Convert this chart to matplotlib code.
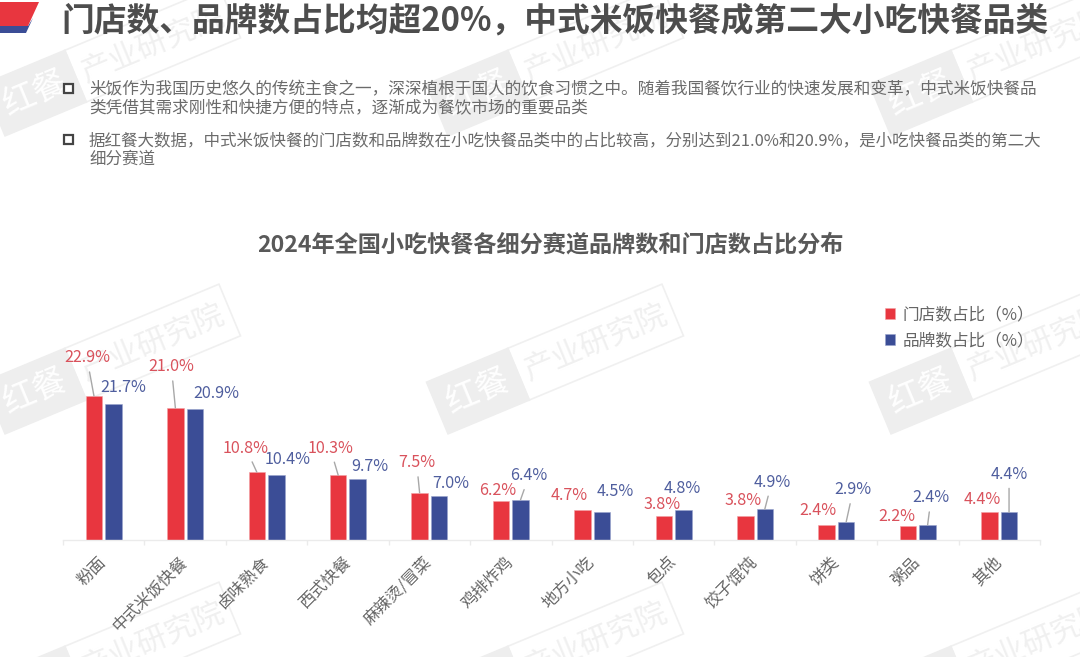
import numpy as np
import matplotlib
matplotlib.use("Agg")
import matplotlib.pyplot as plt
from matplotlib.patches import Polygon, Rectangle

plt.rcParams['font.family'] = ['Noto Sans CJK SC', 'DejaVu Sans']

# ---- data ----
categories = ['粉面', '中式米饭快餐', '卤味熟食', '西式快餐', '麻辣烫/冒菜', '鸡排炸鸡',
              '地方小吃', '包点', '饺子馄饨', '饼类', '粥品', '其他']
store_share = [22.9, 21.0, 10.8, 10.3, 7.5, 6.2, 4.7, 3.8, 3.8, 2.4, 2.2, 4.4]
brand_share = [21.7, 20.9, 10.4, 9.7, 7.0, 6.4, 4.5, 4.8, 4.9, 2.9, 2.4, 4.4]
store_name = '门店数占比（%）'
brand_name = '品牌数占比（%）'
title = '门店数、品牌数占比均超20%，中式米饭快餐成第二大小吃快餐品类'
chart_title = '2024年全国小吃快餐各细分赛道品牌数和门店数占比分布'
para1 = ['米饭作为我国历史悠久的传统主食之一，深深植根于国人的饮食习惯之中。随着我国餐饮行业的快速发展和变革，中式米饭快餐品',
         '类凭借其需求刚性和快捷方便的特点，逐渐成为餐饮市场的重要品类']
para2 = ['据红餐大数据，中式米饭快餐的门店数和品牌数在小吃快餐品类中的占比较高，分别达到21.0%和20.9%，是小吃快餐品类的第二大',
         '细分赛道']

# label offsets from the top of each bar, in pixels
store_dx = [-7, -4, -11, -8, -3, -3, -13, -2, -2, -9, -11, -7]
store_dy = [38, 41, 24, 27, 30, 11, 15, 12, 16, 14, 10, 13]
brand_dx = [10, 21, 11, 12, 12, 8.5, 13, -1, 7, 7, 3.5, 0]
brand_dy = [16, 15, 15, 12, 12, 24, 20, 21, 27, 32, 27, 38]
store_leader = [1, 1, 1, 1, 1, 0, 0, 0, 0, 0, 0, 0]
brand_leader = [0, 0, 0, 0, 0, 1, 0, 0, 1, 1, 1, 1]

RED, BLUE = '#e8363f', '#3b4d96'
RED_T, BLUE_T = '#d9525c', '#4f5e9e'
W, H = 1080, 657

fig = plt.figure(figsize=(W / 100, H / 100), dpi=100, facecolor='white')

# background layer in pixel coordinates
bg = fig.add_axes([0, 0, 1, 1])
bg.set_xlim(0, W)
bg.set_ylim(H, 0)
bg.axis('off')


def watermark(cx, cy):
    ang = np.deg2rad(-22.6)
    u = np.array([np.cos(ang), np.sin(ang)])
    v = np.array([-np.sin(ang), np.cos(ang)])
    c = np.array([cx, cy])
    L, T, S = 127.5, 28, -127.5 + 88

    def p(a, b):
        return c + a * u + b * v
    bg.add_patch(Polygon([p(S, -T), p(L, -T), p(L, T), p(S, T)], closed=True, fc='white',
                         ec='#f0f0f0', lw=1.2, zorder=1))
    bg.add_patch(Polygon([p(-L, -T), p(S, -T), p(S, T), p(-L, T)], closed=True, fc='#eeeeee',
                         ec='#eeeeee', lw=1.2, zorder=1))
    q = p((-L + S) / 2, 0)
    bg.text(q[0], q[1], '红餐', color='white', fontsize=24, rotation=22.6,
            rotation_mode='anchor', ha='center', va='center', zorder=2)
    q = p((S + L) / 2, 0)
    bg.text(q[0], q[1], '产业研究院', color='#f0f0f0', fontsize=22, rotation=22.6,
            rotation_mode='anchor', ha='center', va='center', zorder=2)


for wy in (61, 359, 657):
    for wx in (112, 555, 998):
        watermark(wx, wy)

# corner logo
bg.add_patch(Polygon([(0, 26), (28, 26), (33, 18), (26, 33), (0, 33)], closed=True, fc=BLUE, ec='none', zorder=3))
bg.add_patch(Polygon([(0, 2), (39, 2), (28, 26), (0, 26)], closed=True, fc=RED, ec='none', zorder=3))

# headings and body
bg.text(61, 21, title, fontsize=23.6, fontweight='bold', color='#4d4d4d', ha='left', va='center', zorder=5)
for y0, para, fs in ((88, para1, 12.0), (139, para2, 11.9)):
    bg.add_patch(Rectangle((63.5, y0 - 4.5), 9.5, 9.5, fc='white', ec='#444444', lw=1.6, zorder=5))
    for k, line in enumerate(para):
        bg.text(89, y0 + 2 + 18 * k, line, fontsize=fs, color='#6b6b6b', ha='left', va='center', zorder=5)
bg.text(550.5, 245, chart_title, fontsize=16.7, fontweight='bold', color='#595959',
        ha='center', va='center', zorder=5)

# chart
BASE = 540
SCALE = 6.29
TOP = 300
ax = fig.add_axes([63 / W, (H - BASE) / H, (1040 - 63) / W, (BASE - TOP) / H])
ax.patch.set_alpha(0)
n = len(categories)
x = np.arange(n)
ax.set_xlim(-0.5, n - 0.5)
ax.set_ylim(0, (BASE - TOP) / SCALE)
off = 9.75 / 81.4
bw = 16.5 / 81.4
b1 = ax.bar(x - off, store_share, bw, color=RED, edgecolor='#f2a0a4', linewidth=0.4, label=store_name)
b2 = ax.bar(x + off, brand_share, bw, color=BLUE, edgecolor='#9aa4cc', linewidth=0.4, label=brand_name)

for spine in ('top', 'right', 'left'):
    ax.spines[spine].set_visible(False)
ax.spines['bottom'].set_color('#ebebeb')
ax.spines['bottom'].set_linewidth(1)
ax.set_yticks([])
ax.set_xticks(np.arange(n + 1) - 0.5)
ax.set_xticklabels([])
ax.tick_params(axis='x', which='major', length=3.6, color='#ebebeb', width=1)
ax.set_xticks(x, minor=True)
ax.set_xticklabels(categories, minor=True, rotation=45, rotation_mode='anchor', ha='right', va='center',
                   fontsize=11.8, color='#666666')
ax.tick_params(axis='x', which='minor', length=0, pad=14)


def labels(xs, vals, dx, dy, flags, col):
    for xi, v, a, b, f in zip(xs, vals, dx, dy, flags):
        props = dict(arrowstyle='-', color='#a8a8a8', lw=1.0, shrinkA=2, shrinkB=0) if f else None
        ax.annotate(f'{v:.1f}%', xy=(xi, v), xytext=(a, b), textcoords='offset pixels', ha='center',
                    va='center', fontsize=11.6, color=col, arrowprops=props, annotation_clip=False)


labels(x - off, store_share, store_dx, store_dy, store_leader, RED_T)
labels(x + off, brand_share, brand_dx, brand_dy, brand_leader, BLUE_T)

ax.legend(handles=[b1, b2], loc='upper left', bbox_to_anchor=((872 - 63) / (1040 - 63), 1.03), frameon=False,
          fontsize=12, labelcolor='#666666', handlelength=0.6, handleheight=0.6, handletextpad=0.42,
          labelspacing=0.56, borderpad=0.3)

fig.savefig('out.png', dpi=100)
